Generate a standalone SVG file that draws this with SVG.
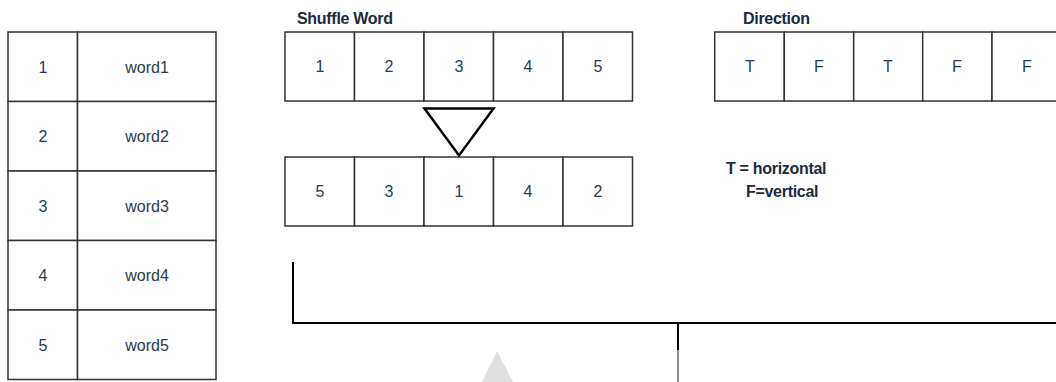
<svg xmlns="http://www.w3.org/2000/svg" width="1056" height="382" viewBox="0 0 1056 382">
<style>
.cell{fill:#ffffff;stroke:#333333;stroke-width:1.5}
.t{font-family:"Liberation Sans",Arial,sans-serif;font-size:16px;fill:#2b3a4f;text-anchor:middle}
.b{font-family:"Liberation Sans",Arial,sans-serif;font-size:16px;font-weight:bold;fill:#1b2a41;letter-spacing:-0.3px}
.ln{stroke:#000000;stroke-width:2;fill:none}
</style>
<rect width="1056" height="382" fill="#ffffff"/>
<g id="word-table">
<rect class="cell" x="8" y="32" width="69.5" height="69.5"/><rect class="cell" x="77.5" y="32" width="138.5" height="69.5"/>
<rect class="cell" x="8" y="101.5" width="69.5" height="69.5"/><rect class="cell" x="77.5" y="101.5" width="138.5" height="69.5"/>
<rect class="cell" x="8" y="171" width="69.5" height="69.5"/><rect class="cell" x="77.5" y="171" width="138.5" height="69.5"/>
<rect class="cell" x="8" y="240.5" width="69.5" height="69.5"/><rect class="cell" x="77.5" y="240.5" width="138.5" height="69.5"/>
<rect class="cell" x="8" y="310" width="69.5" height="69.5"/><rect class="cell" x="77.5" y="310" width="138.5" height="69.5"/>
<text class="t" x="43" y="72.5">1</text><text class="t" x="147" y="72.5">word1</text>
<text class="t" x="43" y="142">2</text><text class="t" x="147" y="142">word2</text>
<text class="t" x="43" y="211.5">3</text><text class="t" x="147" y="211.5">word3</text>
<text class="t" x="43" y="281">4</text><text class="t" x="147" y="281">word4</text>
<text class="t" x="43" y="350.5">5</text><text class="t" x="147" y="350.5">word5</text>
</g>
<g id="shuffle-word">
<text class="b" x="297" y="24">Shuffle Word</text>
<rect class="cell" x="285" y="32" width="69.5" height="69"/>
<rect class="cell" x="354.5" y="32" width="69.5" height="69"/>
<rect class="cell" x="424" y="32" width="69.5" height="69"/>
<rect class="cell" x="493.5" y="32" width="69.5" height="69"/>
<rect class="cell" x="563" y="32" width="69.5" height="69"/>
<text class="t" x="320" y="72">1</text><text class="t" x="389" y="72">2</text><text class="t" x="459" y="72">3</text><text class="t" x="528" y="72">4</text><text class="t" x="598" y="72">5</text>
</g>
<g id="shuffled">
<rect class="cell" x="285" y="157" width="69.5" height="69"/>
<rect class="cell" x="354.5" y="157" width="69.5" height="69"/>
<rect class="cell" x="424" y="157" width="69.5" height="69"/>
<rect class="cell" x="493.5" y="157" width="69.5" height="69"/>
<rect class="cell" x="563" y="157" width="69.5" height="69"/>
<text class="t" x="320" y="197">5</text><text class="t" x="389" y="197">3</text><text class="t" x="459" y="197">1</text><text class="t" x="528" y="197">4</text><text class="t" x="598" y="197">2</text>
</g>
<g id="direction">
<text class="b" x="743" y="24">Direction</text>
<rect class="cell" x="714.7" y="32" width="69.6" height="69"/>
<rect class="cell" x="784.3" y="32" width="69.4" height="69"/>
<rect class="cell" x="853.7" y="32" width="69" height="69"/>
<rect class="cell" x="922.7" y="32" width="69.3" height="69"/>
<rect class="cell" x="992" y="32" width="69.5" height="69"/>
<text class="t" x="750" y="72">T</text><text class="t" x="819" y="72">F</text><text class="t" x="888" y="72">T</text><text class="t" x="957" y="72">F</text><text class="t" x="1027" y="72">F</text>
</g>
<g id="legend">
<text class="b" x="726" y="174">T = horizontal</text>
<text class="b" x="746" y="197">F=vertical</text>
</g>
<g id="connectors">
<polygon points="424.5,108.5 493.5,108.5 459,155.5" fill="#ffffff" stroke="#000000" stroke-width="2.5"/>
<polyline class="ln" points="293,262 293,323 1056,323"/>
<line class="ln" x1="678" y1="323" x2="678" y2="350"/>
<line x1="678" y1="350" x2="678" y2="382" stroke="#8a8a8a" stroke-width="2"/>
<polygon points="497,351 482,382 513,382" fill="#e0e0e0"/>
</g>
</svg>
